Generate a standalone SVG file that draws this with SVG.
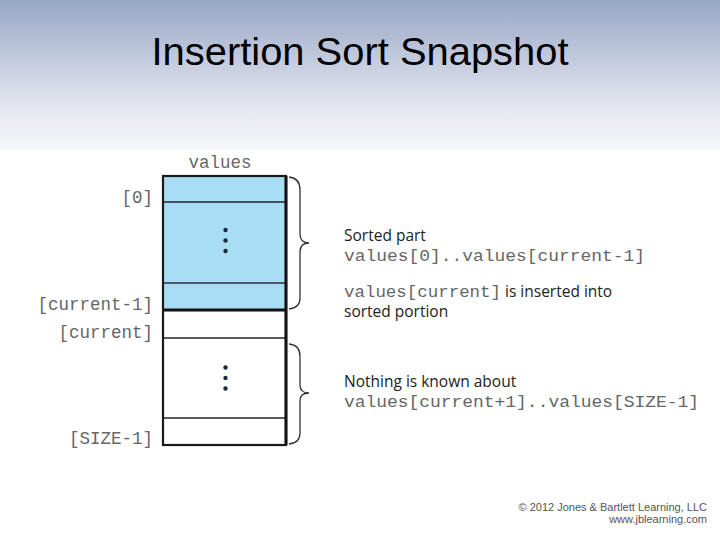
<svg xmlns="http://www.w3.org/2000/svg" width="720" height="540" viewBox="0 0 720 540">
<defs>
<linearGradient id="bg" x1="0" y1="0" x2="0" y2="1">
<stop offset="0" stop-color="#97a7c5"/>
<stop offset="0.4" stop-color="#c3cbde"/>
<stop offset="0.75" stop-color="#e6e9f1"/>
<stop offset="1" stop-color="#f6f7fa"/>
</linearGradient>
<style>
.mono{font-family:"Liberation Mono","Courier New",monospace;font-size:17.5px;fill:#666}
.mn{font-family:"Liberation Mono","Courier New",monospace;font-size:16px;fill:#666}
.sans{font-family:"Open Sans","Liberation Sans",sans-serif;font-size:15.5px;fill:#222}
.brace{fill:none;stroke:#333;stroke-width:1.3}
.dot{fill:#1a2a3a}
</style>
</defs>
<rect x="0" y="0" width="720" height="540" fill="#fff"/>
<rect x="0" y="0" width="720" height="150" fill="url(#bg)"/>
<rect x="35" y="150" width="667" height="390" fill="#fff"/>
<text x="360" y="65" text-anchor="middle" font-family="'Liberation Sans',Arial,sans-serif" font-size="38" fill="#000" textLength="417" lengthAdjust="spacingAndGlyphs">Insertion Sort Snapshot</text>

<g id="array">
<rect x="163" y="176" width="123" height="134" fill="#a8ddf6"/>
<line x1="163" y1="202" x2="286" y2="202" stroke="#223" stroke-width="1.5"/>
<line x1="163" y1="283" x2="286" y2="283" stroke="#556" stroke-width="2"/>
<line x1="163" y1="310" x2="286" y2="310" stroke="#111" stroke-width="3"/>
<line x1="163" y1="338" x2="286" y2="338" stroke="#222" stroke-width="1.5"/>
<line x1="163" y1="418" x2="286" y2="418" stroke="#222" stroke-width="1.5"/>
<rect x="163" y="176" width="123" height="269" fill="none" stroke="#1a1a1a" stroke-width="2.2"/>
<line x1="286" y1="176" x2="286" y2="445" stroke="#111" stroke-width="3"/>
<circle class="dot" cx="225.5" cy="230" r="2.2"/>
<circle class="dot" cx="225.5" cy="240.5" r="2.2"/>
<circle class="dot" cx="225.5" cy="251" r="2.2"/>
<circle class="dot" cx="225.5" cy="367.5" r="2.2"/>
<circle class="dot" cx="225.5" cy="378" r="2.2"/>
<circle class="dot" cx="225.5" cy="388.5" r="2.2"/>
</g>

<g id="labels">
<text class="mono" x="220" y="168" text-anchor="middle">values</text>
<text class="mono" x="153" y="203" text-anchor="end">[0]</text>
<text class="mono" x="153" y="310" text-anchor="end">[current-1]</text>
<text class="mono" x="153" y="338" text-anchor="end">[current]</text>
<text class="mono" x="153" y="444" text-anchor="end">[SIZE-1]</text>
</g>

<g id="braces">
<path class="brace" d="M289,177 Q300,178 300,190 L300,234 Q300,243 309,243 Q300,243 300,252 L300,298 Q300,308 289,309"/>
<path class="brace" d="M289,344 Q300,345 300,356 L300,385 Q300,393 309,393 Q300,393 300,401 L300,433 Q300,443 289,444"/>
</g>

<g id="notes">
<text class="sans" x="344" y="241">Sorted part</text>
<text class="mn" x="344" y="261" textLength="301" lengthAdjust="spacingAndGlyphs">values[0]..values[current-1]</text>
<text class="mn" x="344" y="297" textLength="157" lengthAdjust="spacingAndGlyphs">values[current]</text>
<text class="sans" x="505" y="297">is inserted into</text>
<text class="sans" x="344" y="317">sorted portion</text>
<text class="sans" x="344" y="387">Nothing is known about</text>
<text class="mn" x="344" y="407" textLength="355" lengthAdjust="spacingAndGlyphs">values[current+1]..values[SIZE-1]</text>
</g>

<g id="footer">
<text x="707" y="511" text-anchor="end" font-family="'Liberation Sans',Arial,sans-serif" font-size="11" fill="#555">© 2012 Jones &amp; Bartlett Learning, LLC</text>
<text x="707" y="523" text-anchor="end" font-family="'Liberation Sans',Arial,sans-serif" font-size="11" fill="#555">www.jblearning.com</text>
</g>
</svg>
